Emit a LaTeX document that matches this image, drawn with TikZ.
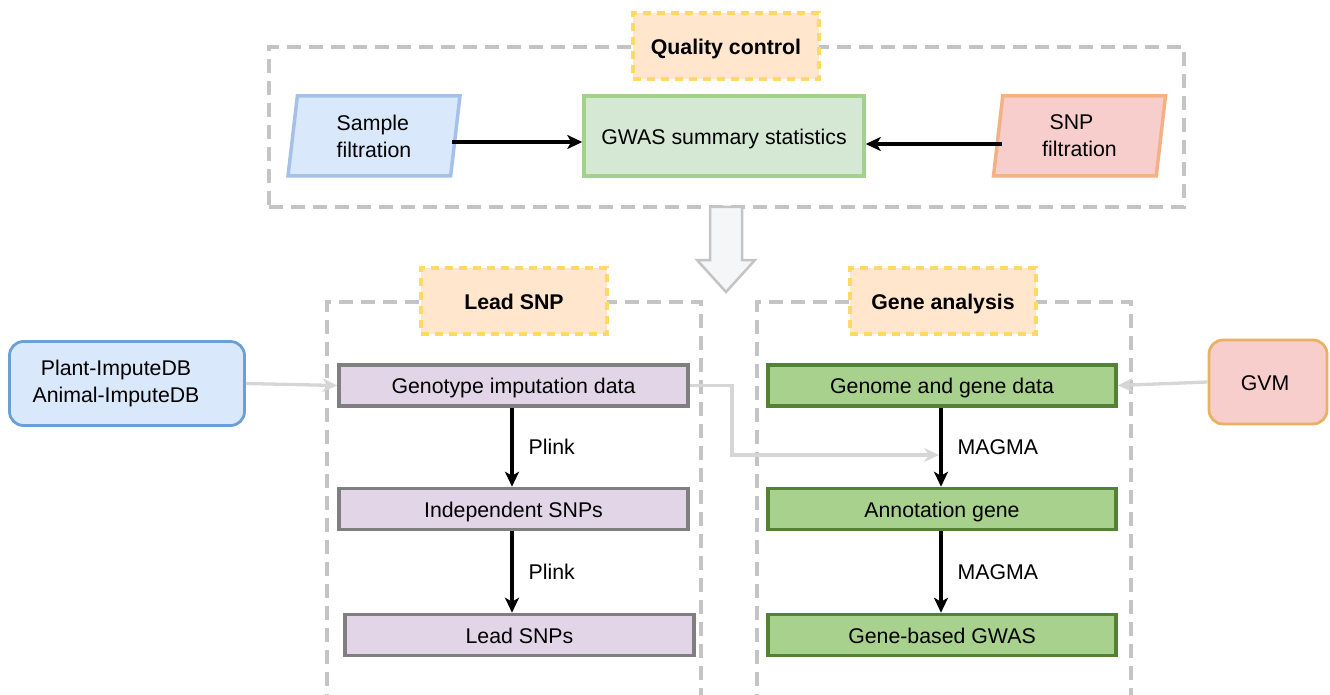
\documentclass[tikz,border=0pt]{standalone}
\usepackage{fontspec}
\setmainfont{Liberation Sans}
\usetikzlibrary{arrows.meta,shapes.geometric,calc}
\definecolor{grpgray}{HTML}{C4C4C4}
\definecolor{lblborder}{HTML}{FFD966}
\definecolor{lblfill}{HTML}{FFE6CC}
\definecolor{bluefill}{HTML}{DAE8FC}
\definecolor{blueline}{HTML}{A4C2E8}
\definecolor{blueline2}{HTML}{6A9FD8}
\definecolor{gwasfill}{HTML}{D5E8D4}
\definecolor{gwasline}{HTML}{A3D08A}
\definecolor{redfill}{HTML}{F8CECC}
\definecolor{orangeline}{HTML}{F4B183}
\definecolor{gvmline}{HTML}{E8B164}
\definecolor{purfill}{HTML}{E1D5E7}
\definecolor{purline}{HTML}{7F7F7F}
\definecolor{grnfill}{HTML}{A7D18C}
\definecolor{grnline}{HTML}{538135}
\definecolor{conngray}{HTML}{D6D6D6}
\definecolor{bigarrowfill}{HTML}{F5F6F8}
\begin{document}
\begin{tikzpicture}[x=1pt,y=-1pt,
  txt/.style={font=\fontsize{21.3}{27}\selectfont, text=black},
  one/.style={text height=21pt, text depth=4.5pt},
  grp/.style={draw=grpgray, line width=3.5pt, dash pattern=on 14pt off 8pt, inner sep=0pt},
  lbl/.style={txt, one, draw=lblborder, fill=lblfill, line width=3.5pt, dash pattern=on 8pt off 6pt,
    minimum width=186pt, minimum height=66pt, inner sep=0pt, font=\fontsize{21.3}{27}\selectfont\bfseries},
  para/.style={txt, trapezium, trapezium left angle=77.6, trapezium right angle=102.4,
    trapezium stretches body, line width=3.5pt, minimum height=80pt, minimum width=172pt, inner sep=0pt},
  purp/.style={txt, one, draw=purline, fill=purfill, line width=3.5pt, minimum width=349pt, minimum height=41pt, inner sep=0pt},
  grn/.style={txt, one, draw=grnline, fill=grnfill, line width=3.5pt, minimum width=348pt, minimum height=41pt, inner sep=0pt},
  blk/.style={line width=3.3pt, -{Stealth[length=15pt,width=14pt,inset=4pt]}},
  gry/.style={draw=conngray, line width=3.3pt, -{Stealth[length=15pt,width=14pt,inset=5pt]}},
  lab/.style={txt, anchor=west, inner sep=0pt}
]
\useasboundingbox (0,0) rectangle (1330,695);

% group frames
\node[grp, minimum width=915pt, minimum height=160pt] (qcg) at (726.5,127) {};
\node[grp, minimum width=374pt, minimum height=400pt] (lsg) at (514,502) {};
\node[grp, minimum width=374pt, minimum height=400pt] (gag) at (944,502) {};

% group labels
\node[lbl] (qcl) at (726,46) {Quality control};
\node[lbl] (lsl) at (514,301) {Lead SNP};
\node[lbl] (gal) at (943,301) {Gene analysis};

% quality control row
\node[para, draw=blueline, fill=bluefill, align=left] (sf) at (374,136) {Sample\\filtration};
\node[txt, one, draw=gwasline, fill=gwasfill, line width=3.5pt, minimum width=280pt, minimum height=80pt, inner sep=0pt] (gw) at (724,136) {GWAS summary statistics};
\node[para, draw=orangeline, fill=redfill, align=center] (snf) at (1079.5,136) {SNP\hspace*{16pt}\\filtration};
\draw[blk] ([xshift=-5pt]sf.east |- 0,142) -- (gw.west |- 0,142);
\draw[blk] ([xshift=6pt]snf.west |- 0,144) -- (gw.east |- 0,144);

% big block arrow
\path (726,207) coordinate (ba1) (726,292) coordinate (ba2);
\draw[draw=grpgray, fill=bigarrowfill, line width=2.5pt, line join=miter]
  ($(ba1)+(-16,0)$) -- ($(ba1)+(16,0)$) -- ($(ba1)+(16,53)$) -- ($(ba1)+(29,53)$) -- (ba2)
  -- ($(ba1)+(-29,53)$) -- ($(ba1)+(-16,53)$) -- cycle;

% side sources
\node[txt, draw=blueline2, fill=bluefill, line width=2.8pt, rounded corners=14pt, minimum width=235pt, minimum height=84pt, align=center, inner sep=0pt] (db) at (127,383.5) {Plant-ImputeDB\hspace*{22pt}\\Animal-ImputeDB\hspace*{22pt}};
\node[txt, one, draw=gvmline, fill=redfill, line width=2.8pt, rounded corners=14pt, minimum width=118pt, minimum height=84pt, inner sep=0pt] (gvm) at (1268,382) {GVM\hspace*{6pt}};

% lead SNP column
\node[purp] (gid) at (513.5,385.5) {Genotype imputation data};
\node[purp] (ind) at (513.5,509) {Independent SNPs};
\node[purp] (lds) at (519.5,635) {Lead SNPs};
\draw[blk] (gid.south -| 512,0) -- (ind.north -| 512,0) node[lab, pos=0.5, xshift=15pt] (pl1) {Plink};
\draw[blk] (ind.south -| 512,0) -- (lds.north -| 512,0) node[lab, pos=0.5, xshift=15pt] (pl2) {Plink};

% gene analysis column
\node[grn] (ggd) at (942,385.5) {Genome and gene data};
\node[grn] (ang) at (942,509) {Annotation gene};
\node[grn] (gbg) at (942,635) {Gene-based GWAS};
\draw[blk] (ggd.south -| 941,0) -- (ang.north -| 941,0) node[lab, pos=0.5, xshift=15pt] (mg1) {MAGMA};
\draw[blk] (ang.south -| 941,0) -- (gbg.north -| 941,0) node[lab, pos=0.5, xshift=15pt] (mg2) {MAGMA};

% gray connectors
\coordinate (jn) at (939,455);
\draw[gry] (db.east) -- (gid.west);
\draw[gry] (gvm.west) -- (ggd.east);
\draw[gry] (gid.east) -- (732,385.5) -- (732,455) -- (jn);
\end{tikzpicture}
\end{document}
